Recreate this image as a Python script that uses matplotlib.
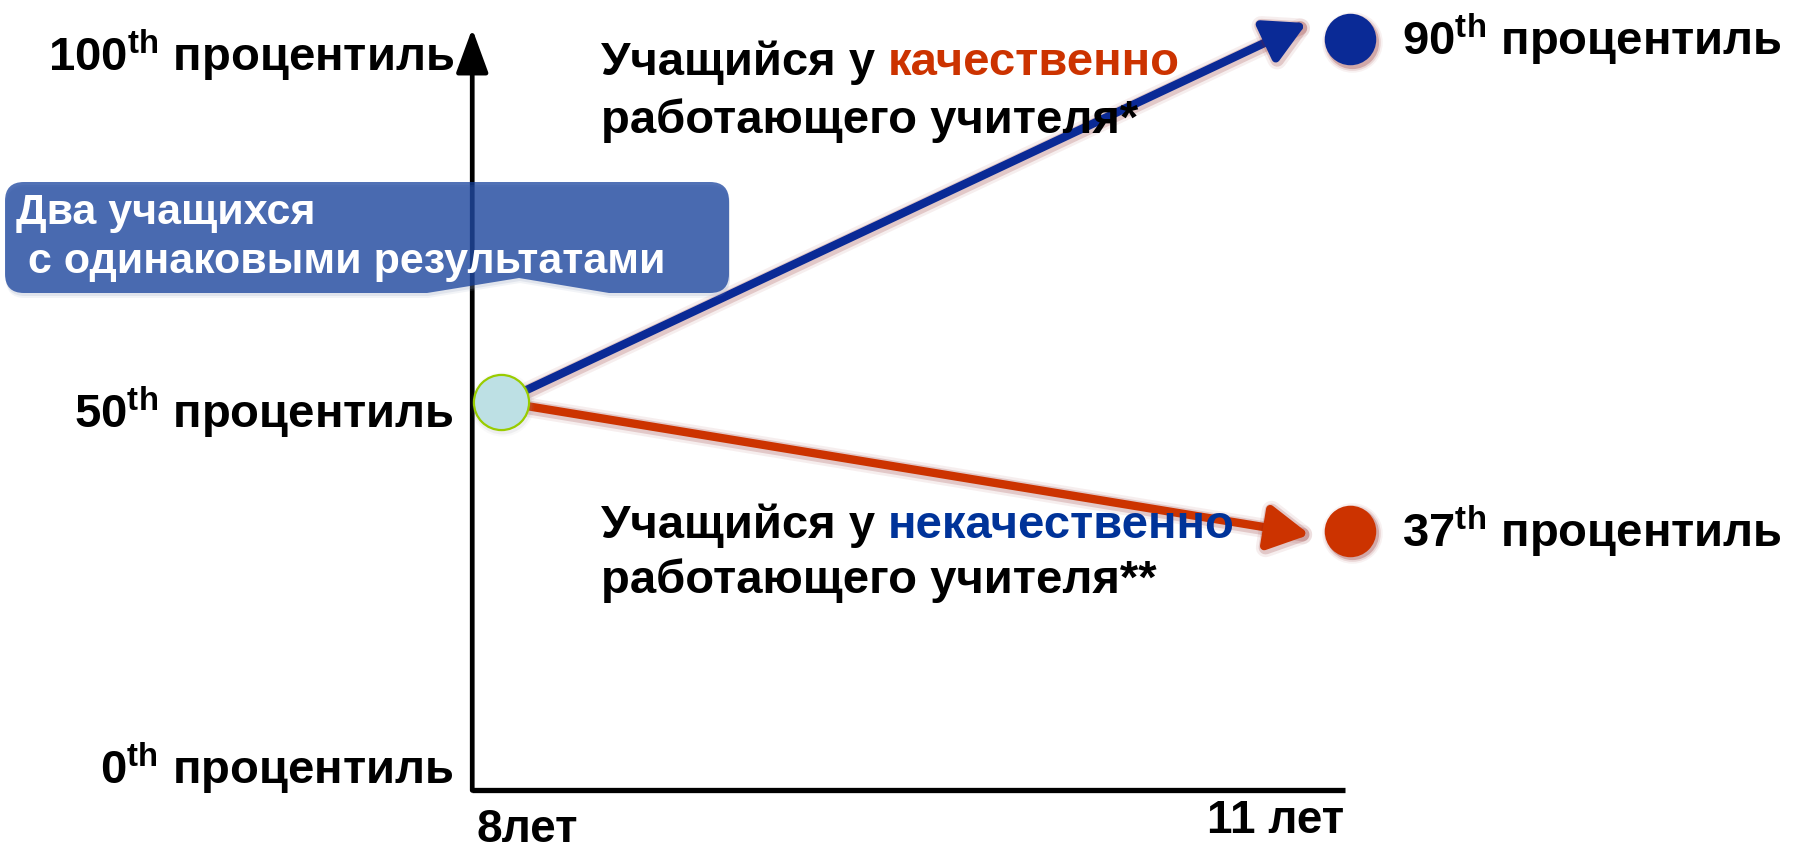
import matplotlib
matplotlib.use("Agg")
import matplotlib.pyplot as plt
import matplotlib.patheffects as pe
from matplotlib.path import Path
from matplotlib.patches import PathPatch
from matplotlib.transforms import Affine2D

plt.rcParams['font.family'] = ['Liberation Sans', 'DejaVu Sans']
plt.rcParams['font.weight'] = 'bold'
plt.rcParams['mathtext.fontset'] = 'custom'
plt.rcParams['mathtext.rm'] = 'Liberation Sans:bold'
plt.rcParams['mathtext.it'] = 'Liberation Sans:bold'
plt.rcParams['mathtext.bf'] = 'Liberation Sans:bold'

# data
ages = [8, 11]
age_labels = ['8лет', '11 лет']
pct_ticks = [0, 50, 100]
start_age = 8.1
start_pct = 51.4          # drawn height of the shared starting point
end_age = 11.02
end_labels = [90, 37]     # labelled percentiles
end_pcts = [102.2, 33.3]  # drawn heights of the two end points
tip_ages = [10.87, 10.88]
tip_pcts = [104.5, 32.8]
colors = ['#0a2a96', '#cc3300']
word_colors = ['#cc3300', '#003399']
words = ['качественно', 'некачественно']
second_lines = ['работающего учителя*', 'работающего учителя**']

W, H = 1802, 849
fig = plt.figure(figsize=(W / 100, H / 100), dpi=100)
ax = fig.add_axes([0, 0, 1, 1])
ax.set_xlim(6.376, 12.573)
ax.set_ylim(-11.27, 107.73)
ax.axis('off')

# image pixel -> figure fraction
px = Affine2D().scale(1 / W, -1 / H).translate(0, 1) + fig.transFigure

# axes lines
ax.annotate('', xy=(ages[0], 103.7), xytext=(ages[0], -3.06),
            arrowprops=dict(arrowstyle='-|>,head_length=0.6,head_width=0.22',
                            mutation_scale=45, lw=3.4, color='black',
                            shrinkA=0, shrinkB=0), zorder=2)
ax.plot([ages[0], ages[1]], [-3.06, -3.06], color='black', lw=3.8,
        solid_capstyle='butt', zorder=2)

for p in pct_ticks:
    ax.text(7.937, p, r'$%d^{\mathrm{th}}$ процентиль' % p, ha='right',
            va='center', fontsize=34)
ax.text(ages[0] + 0.015, -8.6, age_labels[0], ha='left', va='center', fontsize=33)
ax.text(ages[1], -7.4, age_labels[1], ha='right', va='center', fontsize=33)

# callout box with notched bottom
x0, x1, y0, y1, r = 5, 729, 182, 293, 19
verts = [(x0 + r, y0), (x1 - r, y0), (x1, y0), (x1, y0 + r), (x1, y1 - r),
         (x1, y1), (x1 - r, y1), (609, y1), (519, 278), (427, y1),
         (x0 + r, y1), (x0, y1), (x0, y1 - r), (x0, y0 + r), (x0, y0),
         (x0 + r, y0), (x0 + r, y0)]
codes = [Path.MOVETO, Path.LINETO, Path.CURVE3, Path.CURVE3, Path.LINETO,
         Path.CURVE3, Path.CURVE3, Path.LINETO, Path.LINETO, Path.LINETO,
         Path.LINETO, Path.CURVE3, Path.CURVE3, Path.LINETO, Path.CURVE3,
         Path.CURVE3, Path.CLOSEPOLY]
box_path = Path(verts, codes)
for off, a in [(5, 0.12), (3, 0.2)]:
    shadow = PathPatch(box_path, transform=Affine2D().translate(1, off) + px,
                       facecolor='#9aa6c4', edgecolor='none', alpha=a, zorder=3)
    fig.add_artist(shadow)
box = PathPatch(box_path, transform=px, facecolor='#143f9c', edgecolor='none',
                alpha=0.74, zorder=4)
fig.add_artist(box)
txt_fx = [pe.withSimplePatchShadow(offset=(1.5, -1.5), shadow_rgbFace='#1a2a5a',
                                   alpha=0.35)]
fig.text(16 / W, 1 - 213 / H, 'Два учащихся', color='white', fontsize=31,
         ha='left', va='center', zorder=5)
fig.text(16 / W, 1 - 262 / H, ' с одинаковыми результатами', color='white',
         fontsize=31, ha='left', va='center', zorder=5)

glow = '#8a1c1c'

# arrows
for ta, tp, c in zip(tip_ages, tip_pcts, colors):
    ann = ax.annotate('', xy=(ta, tp), xytext=(start_age, start_pct),
                      arrowprops=dict(arrowstyle='-|>,head_length=0.55,head_width=0.3',
                                      mutation_scale=45, lw=6, color=c,
                                      shrinkA=0, shrinkB=0), zorder=6)
    ann.arrow_patch.set_path_effects([
        pe.Stroke(linewidth=14, foreground=glow, alpha=0.07, offset=(1, -1)),
        pe.Stroke(linewidth=10, foreground=glow, alpha=0.18, offset=(1, -1)),
        pe.Normal()])

# end points with glow
for ep, c in zip(end_pcts, colors):
    for k, a in [(1.5, 0.06), (1.32, 0.12), (1.16, 0.25)]:
        ax.scatter(end_age + 0.004, ep - 0.3, s=1265 * k, color=glow, alpha=a,
                   linewidths=0, zorder=7)
    ax.scatter(end_age, ep, s=1265, color=c, edgecolors=c, linewidths=1.5,
               zorder=8)

# start point
for k, a in [(1.35, 0.06), (1.18, 0.12)]:
    ax.scatter(start_age + 0.004, start_pct - 0.3, s=1577 * k, color='#9a9aa8',
               alpha=a, linewidths=0, zorder=7)
ax.scatter(start_age, start_pct, s=1577, color='#bde0e4', edgecolors='#99cc00',
           linewidths=1.6, zorder=8)

# end labels
for ep, lab in zip(end_pcts, end_labels):
    ax.text(11.198, ep, r'$%d^{\mathrm{th}}$ процентиль' % lab, ha='left',
            va='center', fontsize=34, zorder=9)

# path descriptions
line_y = [(98.9, 90.8), (34.0, 26.4)]
for (ya, yb), w, wc, l2 in zip(line_y, words, word_colors, second_lines):
    t1 = ax.text(8.443, ya, 'Учащийся у', ha='left', va='center', fontsize=34,
                 zorder=9)
    ax.annotate(w, xy=(1, 0), xycoords=t1, xytext=(9, 0),
                textcoords='offset points', ha='left', va='bottom',
                fontsize=34, color=wc, zorder=9)
    ax.text(8.443, yb, l2, ha='left', va='center', fontsize=34, zorder=9)

fig.savefig('out.png', dpi=100)
